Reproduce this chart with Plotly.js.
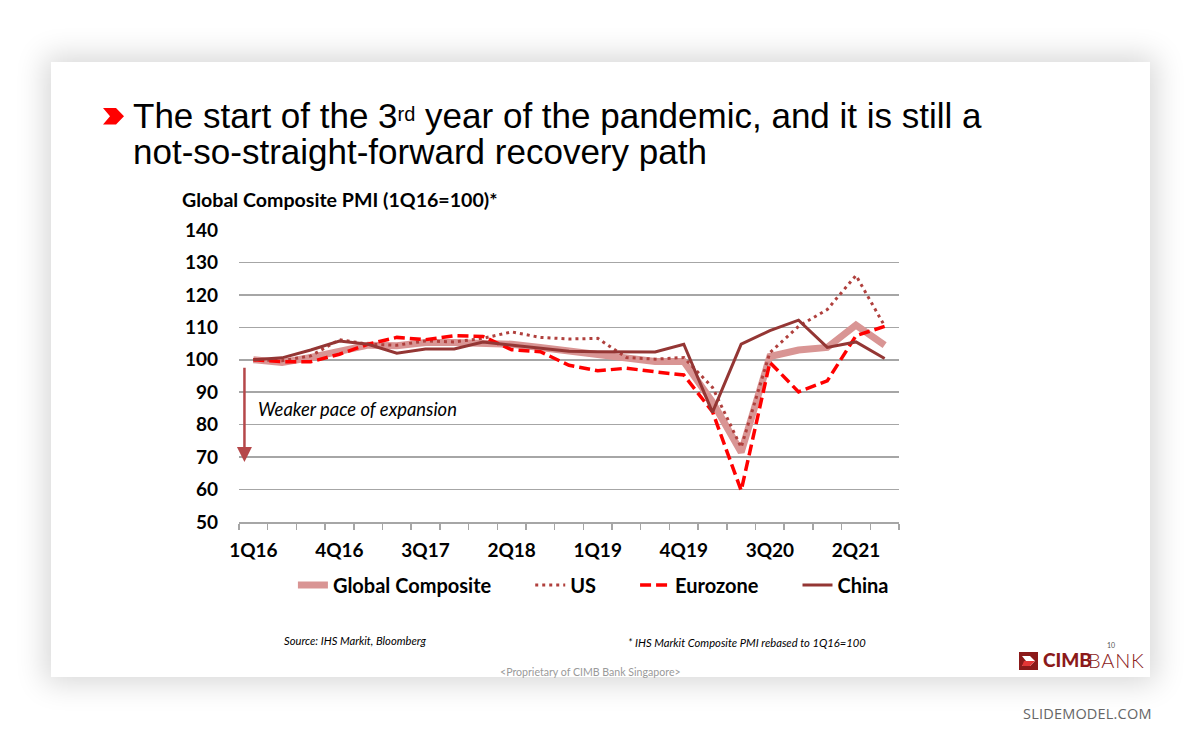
<!DOCTYPE html>
<html>
<head>
<meta charset="utf-8">
<script src="https://cdn.plot.ly/plotly-3.0.1.min.js"></script>
<style>
  html, body { margin:0; padding:0; background:#ffffff; width:1200px; height:743px; overflow:hidden; }
  #card { position:absolute; left:51px; top:62px; width:1099px; height:615px; background:#ffffff;
          box-shadow: 0 0 28px 6px rgba(0,0,0,0.16); }
  #plot { position:absolute; left:0; top:0; width:1200px; height:743px; }
  .txt { position:absolute; white-space:nowrap; }
  #title { left:133px; top:98px; font-family:"Liberation Sans Narrow","Arial Narrow","Liberation Sans",Arial,sans-serif;
           font-size:35px; line-height:36px; color:#000; }
  #title sup { font-size:20px; vertical-align:top; position:relative; top:-2px; }
  .foot { font-family:"Lato","Open Sans",sans-serif; font-style:italic; font-size:11.2px; color:#000; }
</style>
</head>
<body>
<div id="card"></div>
<div id="plot"></div>
<svg class="txt" style="left:0;top:0" width="1200" height="743">
  <polygon points="103,108 116,108 124,116.2 116,124.5 103,124.5 110,116.2" fill="#ff0000"/>
  <rect x="1019" y="652" width="19" height="18" fill="#8b1a1a"/>
  <polygon points="1022,656 1030,656 1035,661 1030,666 1022,666 1026,661" fill="#ffffff"/>
  <polygon points="1024,661 1035,661 1030,666 1022,666" fill="#e23636"/>
</svg>
<div id="title" class="txt">The start of the 3<sup>rd</sup> year of the pandemic, and it is still a<br>not-so-straight-forward recovery path</div>
<div class="txt foot" style="left:284px;top:634px;">Source: IHS Markit, Bloomberg</div>
<div class="txt foot" style="left:628px;top:636px;">* IHS Markit Composite PMI rebased to 1Q16=100</div>
<div class="txt" style="left:500px;top:666px;font-family:'Lato','Open Sans',sans-serif;font-size:10.6px;color:#9a9a9a;">&lt;Proprietary of CIMB Bank Singapore&gt;</div>
<div class="txt" style="left:1043px;top:648px;font-family:'Lato',sans-serif;font-weight:900;font-size:19px;color:#8b1a1a;">CIMB</div>
<div class="txt" style="left:1088px;top:648px;font-family:'Lato',sans-serif;font-weight:300;font-size:20px;color:#8b1a1a;letter-spacing:0.8px;">BANK</div>
<div class="txt" style="left:1107px;top:641px;font-family:'Lato',sans-serif;font-size:7px;line-height:8px;color:#555;">10</div>
<div class="txt" style="left:1023px;top:704px;font-family:'Open Sans','Lato',sans-serif;font-size:14.5px;color:#666666;letter-spacing:0.2px;">SLIDEMODEL.COM</div>
<script>
const quarters = ["1Q16","2Q16","3Q16","4Q16","1Q17","2Q17","3Q17","4Q17","1Q18","2Q18","3Q18","4Q18",
                  "1Q19","2Q19","3Q19","4Q19","1Q20","2Q20","3Q20","4Q20","1Q21","2Q21","3Q21"];
const tickLabels = ["1Q16","4Q16","3Q17","2Q18","1Q19","4Q19","3Q20","2Q21"];
const seriesNames = ["Global Composite","US","Eurozone","China"];
const globalComposite = [100, 99.2, 100.7, 102.8, 104.5, 104.3, 105.3, 105.3, 105.3, 104.8, 103.8, 102.6,
                         101.8, 100.2, 99.5, 99.5, 87, 71.5, 101, 103, 103.8, 110.7, 104.5];
const us = [100, 99.7, 101.2, 106.2, 104.8, 104.5, 105.8, 105.5, 106.6, 108.6, 106.9, 106.4,
            106.6, 100.7, 100.2, 100.7, 91.5, 73, 102.2, 110.3, 115.5, 126, 110.4];
const eurozone = [100, 99.4, 99.4, 101.7, 104.8, 106.9, 106.2, 107.4, 107.2, 103.1, 102.5, 98.3,
                  96.6, 97.4, 96.3, 95.3, 84, 59.7, 99.2, 90.1, 93.5, 107.4, 110.3];
const china = [100, 100.6, 103, 105.8, 104.8, 102, 103.3, 103.3, 105.5, 104.5, 103.5, 102.6,
               102.5, 102.5, 102.4, 104.8, 83.8, 104.8, 109, 112.2, 103.8, 105.5, 100.4];

const FONT = "Lato, 'Open Sans', sans-serif";
const PAD = "\u00a0".repeat(7);
const legendName = (n, i) => i < seriesNames.length - 1 ? n + PAD : n;
const traces = [
  {x: quarters, y: globalComposite, name: legendName(seriesNames[0], 0), type: "scatter", mode: "lines",
   line: {color: "#d99594", width: 7}},
  {x: quarters, y: us, name: legendName(seriesNames[1], 1), type: "scatter", mode: "lines",
   line: {color: "#b0403d", width: 3, dash: "3px,4px"}},
  {x: quarters, y: eurozone, name: legendName(seriesNames[2], 2), type: "scatter", mode: "lines",
   line: {color: "#ff0000", width: 3.5, dash: "11px,5px"}},
  {x: quarters, y: china, name: legendName(seriesNames[3], 3), type: "scatter", mode: "lines",
   line: {color: "#943634", width: 3}}
];

const layout = {
  width: 1200, height: 743,
  margin: {l: 239, r: 301, t: 230, b: 221, pad: 0},
  paper_bgcolor: "rgba(0,0,0,0)", plot_bgcolor: "rgba(0,0,0,0)",
  font: {family: FONT, color: "#000"},
  showlegend: true,
  title: {text: "Global Composite PMI (1Q16=100)*", xref: "container", yref: "container",
          x: 182/1200, xanchor: "left", y: 1 - 200/743, yanchor: "middle",
          font: {family: FONT, size: 19.6, weight: 700, color: "#000"}},
  xaxis: {type: "category", categoryorder: "array", categoryarray: quarters,
          range: [-0.5, quarters.length - 0.5], tickangle: 0,
          tickvals: quarters, ticktext: quarters.map(q => tickLabels.includes(q) ? q : ""),
          tickson: "boundaries", ticks: "outside", ticklen: 6, tickwidth: 1.5, tickcolor: "#a6a6a6",
          showline: true, linecolor: "#a6a6a6", linewidth: 1.5, showgrid: false, zeroline: false,
          ticklabelstandoff: 11,
          tickfont: {family: FONT, size: 19, weight: 700, color: "#000"}},
  yaxis: {range: [50, 140], dtick: 10, tick0: 50, showline: false, zeroline: false,
          gridcolor: "#a6a6a6", gridwidth: 1.5, ticks: "", ticklabelstandoff: 20,
          tickfont: {family: FONT, size: 19, weight: 700, color: "#000"}},
  legend: {orientation: "h", x: 0.537, xanchor: "center", y: -0.216, yanchor: "middle",
           font: {family: FONT, size: 20, weight: 700, color: "#000"}, bgcolor: "rgba(0,0,0,0)"},
  annotations: [
    {x: -0.31, y: 68.5, ax: -0.31, ay: 98, xref: "x", yref: "y", axref: "x", ayref: "y",
     text: "", showarrow: true, arrowhead: 2, arrowsize: 1.2, arrowwidth: 2.5, arrowcolor: "#b5484a"},
    {x: 0.1, y: 84.8, xref: "x", yref: "y", xanchor: "left", yanchor: "middle", showarrow: false,
     text: "<i>Weaker pace of expansion</i>", font: {family: FONT, size: 18.4, color: "#000"}}
  ]
};
Plotly.newPlot("plot", traces, layout, {displayModeBar: false, staticPlot: true});
</script>
</body>
</html>
